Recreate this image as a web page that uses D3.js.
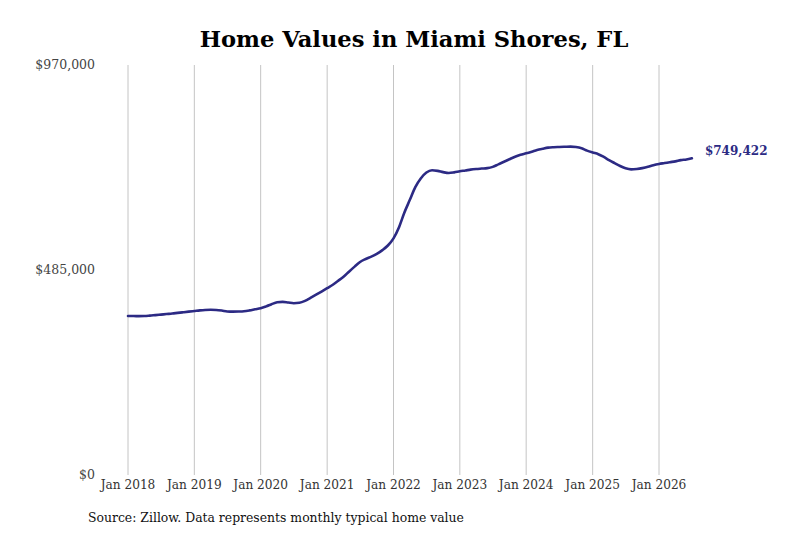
<!DOCTYPE html>
<html>
<head>
<meta charset="utf-8" />
<title>Home Values in Miami Shores, FL</title>
<style>
    body { margin: 0; background: #fff; }
    .cond { font-family: "DejaVu Serif Condensed", "DejaVu Serif", serif; font-stretch: condensed; }
</style>
</head>
<body>
<div id="container"></div>
<script src="https://cdn.jsdelivr.net/npm/d3@7"></script>
<script>
    // monthly typical home value, Jan 2018 .. Jul 2026
    const startMonth = '2018-01'
    const values = [
        376000, 376000, 375800, 376000, 377000, 378300, 379500, 380800, 382000, 383500, 385000, 386500,
        388000, 389500, 390500, 391000, 390500, 389000, 387000, 386500, 386800, 387500, 389500, 392000,
        394500, 399000, 404000, 408500, 409500, 408000, 406500, 407500, 412000, 419000, 426500, 434000,
        442000, 450000, 459000, 469000, 481000, 493000, 504000, 511000, 516500, 523000, 532000, 543000,
        560000, 587000, 620000, 651000, 681000, 702000, 715500, 721000, 719500, 716500, 714500, 716000,
        718500, 720500, 722500, 724000, 725000, 726000, 729000, 735000, 741000, 747000, 753000, 757500,
        761000, 765000, 769000, 772000, 774500, 775500, 776000, 776500, 777000, 776000, 773000, 767500,
        763000, 759000, 753000, 745000, 738000, 731000, 725500, 723000, 724000, 726000, 729000, 733000,
        736000, 738000, 740000, 742000, 745000, 746500, 749422
    ]
    const yTicks = [0, 485000, 970000]
    const xTickYears = [2018, 2019, 2020, 2021, 2022, 2023, 2024, 2025, 2026]
    const title = 'Home Values in Miami Shores, FL'
    const source = 'Source: Zillow. Data represents monthly typical home value'

    const W = 800, H = 533
    const margin = { top: 65, right: 108, bottom: 58, left: 128 }

    const parse = d3.timeParse('%Y-%m')
    const t0 = parse(startMonth)
    const data = values.map((v, i) => ({ date: d3.timeMonth.offset(t0, i), value: v }))

    const svg = d3.select('#container').append('svg').attr('width', W).attr('height', H)

    const x = d3.scaleTime()
        .domain([new Date(2018, 0, 1), new Date(2026, 0, 1)])
        .range([margin.left, 659])
    const y = d3.scaleLinear().domain([0, 970000]).range([H - margin.bottom, margin.top])

    svg.append('text')
        .attr('x', 414).attr('y', 47)
        .attr('text-anchor', 'middle')
        .style('font-family', '"DejaVu Serif", serif')
        .style('font-weight', 'bold')
        .style('font-size', '22.6px')
        .text(title)

    // vertical grid lines at each January
    svg.append('g')
        .selectAll('line')
        .data(xTickYears)
        .join('line')
        .attr('x1', d => x(new Date(d, 0, 1))).attr('x2', d => x(new Date(d, 0, 1)))
        .attr('y1', y(970000)).attr('y2', y(0))
        .attr('stroke', '#c4c4c4').attr('stroke-width', 1)

    const fmt = d3.format('$,')
    svg.append('g')
        .selectAll('text')
        .data(yTicks)
        .join('text')
        .attr('x', 95).attr('y', d => y(d))
        .attr('dy', '0.35em')
        .attr('text-anchor', 'end')
        .style('font-family', '"DejaVu Serif", serif')
        .style('font-size', '12.5px')
        .attr('fill', '#444')
        .text(d => fmt(d))

    svg.append('g')
        .attr('class', 'cond')
        .selectAll('text')
        .data(xTickYears)
        .join('text')
        .attr('x', d => x(new Date(d, 0, 1))).attr('y', 489)
        .attr('text-anchor', 'middle')
        .style('font-size', '13.5px')
        .attr('fill', '#333')
        .text(d => 'Jan ' + d)

    const line = d3.line()
        .x(d => x(d.date))
        .y(d => y(d.value))
        .curve(d3.curveMonotoneX)

    svg.append('path')
        .datum(data)
        .attr('d', line)
        .attr('fill', 'none')
        .attr('stroke', '#2c2a84')
        .attr('stroke-width', 2.6)
        .attr('stroke-linejoin', 'round')
        .attr('stroke-linecap', 'round')

    const last = data[data.length - 1]
    svg.append('text')
        .attr('x', x(last.date) + 13).attr('y', y(last.value) - 7)
        .attr('dy', '0.35em')
        .style('font-family', '"DejaVu Serif", serif')
        .style('font-weight', 'bold')
        .style('font-size', '12px')
        .attr('fill', '#2c2a84')
        .text(fmt(last.value))

    svg.append('text')
        .attr('class', 'cond')
        .attr('x', 88).attr('y', 522)
        .style('font-size', '13.8px')
        .attr('fill', '#111')
        .text(source)
</script>
</body>
</html>
